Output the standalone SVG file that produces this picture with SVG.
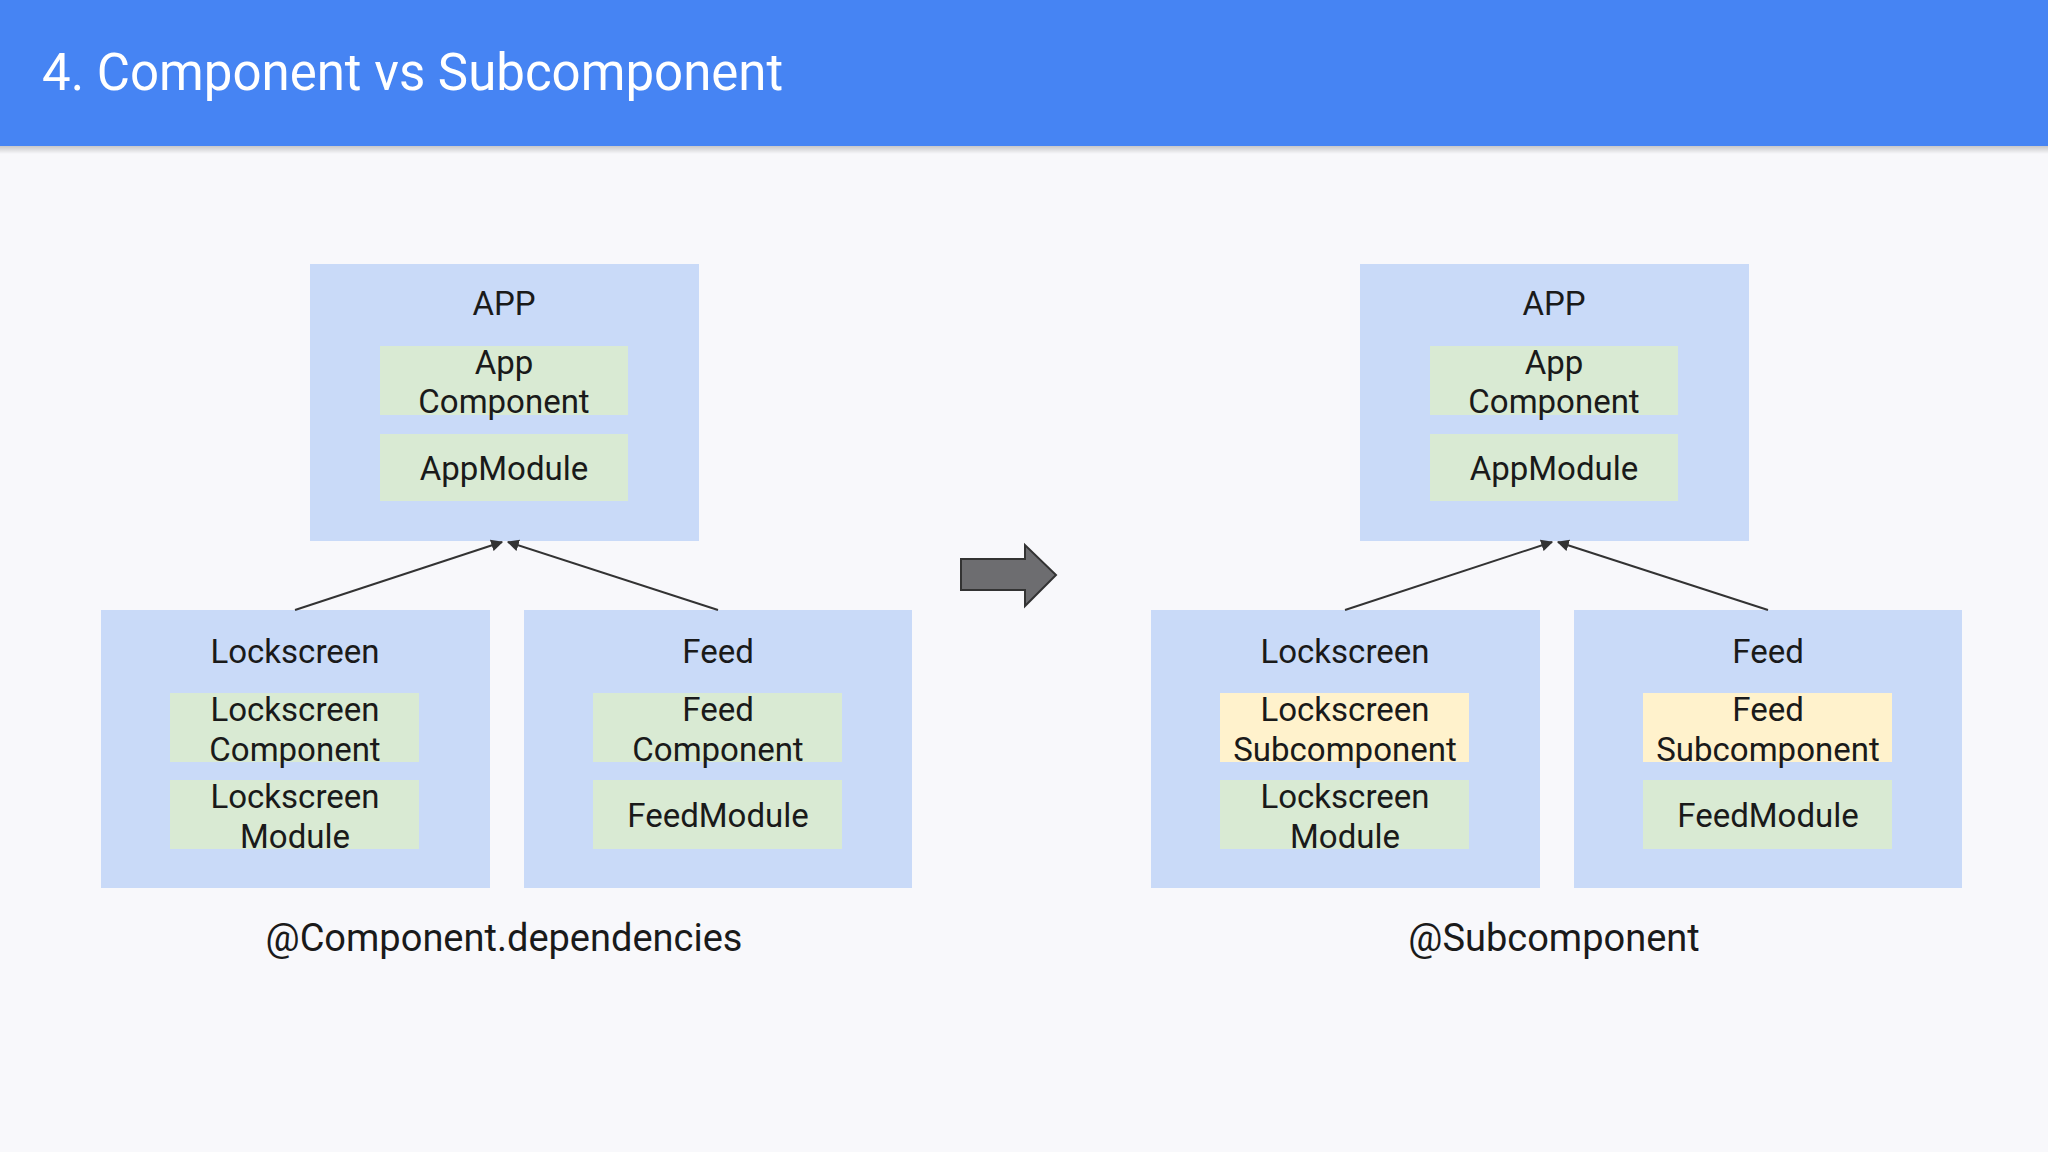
<svg xmlns="http://www.w3.org/2000/svg" width="2048" height="1152" viewBox="0 0 2048 1152">
<style>
text{font-family:Roboto,"Liberation Sans",sans-serif;fill:#1a1a1a;text-anchor:middle;dominant-baseline:central;font-size:33px}
.b{fill:#c9daf8}.g{fill:#d9ead3}.y{fill:#fff2cc}
.c{stroke:#333;stroke-width:2;fill:none;marker-end:url(#ah)}
</style>
<defs>
<marker id="ah" viewBox="0 0 10 10" refX="9" refY="5" markerWidth="6" markerHeight="6" orient="auto"><path d="M0,0L10,5L0,10z" fill="#333"/></marker>
<linearGradient id="sh" x1="0" y1="0" x2="0" y2="1"><stop offset="0" stop-color="#000" stop-opacity="0.2"/><stop offset="1" stop-color="#000" stop-opacity="0"/></linearGradient>
</defs>
<rect width="2048" height="1152" fill="#f8f8fb"/>
<rect y="146" width="2048" height="8" fill="url(#sh)"/>
<rect width="2048" height="146" fill="#4684f3"/>
<text x="42" y="72" style="text-anchor:start;fill:#fff;font-size:51px">4. Component vs Subcomponent</text>

<g id="left-app"><rect class="b" x="310" y="264" width="389" height="277"/><text x="504" y="303">APP</text>
<rect class="g" x="380" y="346" width="248" height="69"/><text x="504" y="362">App</text><text x="504" y="401">Component</text>
<rect class="g" x="380" y="434" width="248" height="67"/><text x="504" y="468">AppModule</text></g>
<g id="left-lock"><rect class="b" x="101" y="610" width="389" height="278"/><text x="295" y="651">Lockscreen</text>
<rect class="g" x="170" y="693" width="249" height="69"/><text x="295" y="709">Lockscreen</text><text x="295" y="749">Component</text>
<rect class="g" x="170" y="780" width="249" height="69"/><text x="295" y="796">Lockscreen</text><text x="295" y="836">Module</text></g>
<g id="left-feed"><rect class="b" x="524" y="610" width="388" height="278"/><text x="718" y="651">Feed</text>
<rect class="g" x="593" y="693" width="249" height="69"/><text x="718" y="709">Feed</text><text x="718" y="749">Component</text>
<rect class="g" x="593" y="780" width="249" height="69"/><text x="718" y="815">FeedModule</text></g>
<text x="504" y="938" style="font-size:38px">@Component.dependencies</text>

<g id="right-app"><rect class="b" x="1360" y="264" width="389" height="277"/><text x="1554" y="303">APP</text>
<rect class="g" x="1430" y="346" width="248" height="69"/><text x="1554" y="362">App</text><text x="1554" y="401">Component</text>
<rect class="g" x="1430" y="434" width="248" height="67"/><text x="1554" y="468">AppModule</text></g>
<g id="right-lock"><rect class="b" x="1151" y="610" width="389" height="278"/><text x="1345" y="651">Lockscreen</text>
<rect class="y" x="1220" y="693" width="249" height="69"/><text x="1345" y="709">Lockscreen</text><text x="1345" y="749">Subcomponent</text>
<rect class="g" x="1220" y="780" width="249" height="69"/><text x="1345" y="796">Lockscreen</text><text x="1345" y="836">Module</text></g>
<g id="right-feed"><rect class="b" x="1574" y="610" width="388" height="278"/><text x="1768" y="651">Feed</text>
<rect class="y" x="1643" y="693" width="249" height="69"/><text x="1768" y="709">Feed</text><text x="1768" y="749">Subcomponent</text>
<rect class="g" x="1643" y="780" width="249" height="69"/><text x="1768" y="815">FeedModule</text></g>
<text x="1554" y="938" style="font-size:38px">@Subcomponent</text>

<g id="connectors">
<line class="c" x1="295" y1="610" x2="502" y2="542"/>
<line class="c" x1="718" y1="610" x2="508" y2="542"/>
<line class="c" x1="1345" y1="610" x2="1552" y2="542"/>
<line class="c" x1="1768" y1="610" x2="1558" y2="542"/>
<path d="M961,559H1025V545L1056,575L1025,606V590H961z" fill="#6d6d70" stroke="#333" stroke-width="2"/>
</g>
</svg>
